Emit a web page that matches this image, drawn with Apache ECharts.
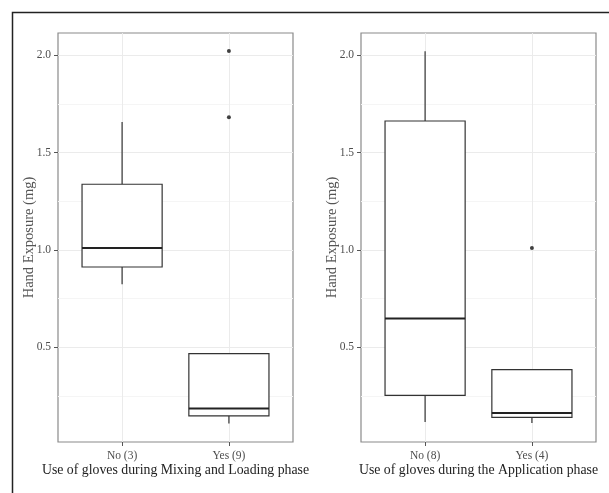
<!DOCTYPE html>
<html>
<head>
<meta charset="utf-8">
<script src="https://cdn.jsdelivr.net/npm/echarts@6/dist/echarts.min.js"></script>
<style>html,body{margin:0;padding:0;background:#fff}#c{width:609px;height:493px}</style>
</head>
<body>
<div id="c"></div>
<script>
// ---- data ----
const yMin = 0.014, yMax = 2.115;
const yTicks = [0.5, 1.0, 1.5, 2.0];
const yMinorTicks = [0.25, 0.75, 1.25, 1.75];

const mixCats = ['No (3)', 'Yes (9)'];
const mixLow  = [0.824, 0.109];
const mixQ1   = [0.913, 0.148];
const mixMed  = [1.011, 0.186];
const mixQ3   = [1.338, 0.468];
const mixHigh = [1.658, 0.468];
const mixOutGroup = [1, 1];
const mixOutVal   = [2.023, 1.682];

const appCats = ['No (8)', 'Yes (4)'];
const appLow  = [0.117, 0.112];
const appQ1   = [0.254, 0.140];
const appMed  = [0.648, 0.163];
const appQ3   = [1.663, 0.386];
const appHigh = [2.021, 0.386];
const appOutGroup = [1];
const appOutVal   = [1.011];

const xTitles = ['Use of gloves during Mixing and Loading phase', 'Use of gloves during the Application phase'];
const yTitle = 'Hand Exposure (mg)';

// ---- build ----
const FONT = 'Liberation Serif';
const chart = echarts.init(document.getElementById('c'), null, {renderer: 'canvas'});

function boxData(low, q1, med, q3, high) {
  return low.map((_, i) => [i + 1, low[i], q1[i], med[i], q3[i], high[i]]);
}
function renderBox(params, api) {
  const x = api.value(0);
  const hw = 0.375;
  const pLow = api.coord([x, api.value(1)]);
  const pQ1L = api.coord([x - hw, api.value(2)]);
  const pMedL = api.coord([x - hw, api.value(3)]);
  const pMedR = api.coord([x + hw, api.value(3)]);
  const pQ3R = api.coord([x + hw, api.value(4)]);
  const pQ1 = api.coord([x, api.value(2)]);
  const pQ3 = api.coord([x, api.value(4)]);
  const pHigh = api.coord([x, api.value(5)]);
  const st = {stroke: '#333', lineWidth: 1.2, fill: null};
  return {
    type: 'group',
    children: [
      {type: 'line', shape: {x1: pQ3[0], y1: pQ3[1], x2: pHigh[0], y2: pHigh[1]}, style: st},
      {type: 'line', shape: {x1: pLow[0], y1: pLow[1], x2: pQ1[0], y2: pQ1[1]}, style: st},
      {type: 'rect', shape: {x: pQ1L[0], y: pQ3R[1], width: pQ3R[0] - pQ1L[0], height: pQ1L[1] - pQ3R[1]}, style: {stroke: '#333', lineWidth: 1.2, fill: '#fff'}},
      {type: 'line', shape: {x1: pMedL[0], y1: pMedL[1], x2: pMedR[0], y2: pMedR[1]}, style: {stroke: '#222', lineWidth: 2}}
    ]
  };
}

const grids = [
  {left: 58, top: 33, width: 235, height: 409, show: true, borderColor: '#8a8a8a', borderWidth: 1.2, backgroundColor: 'transparent'},
  {left: 361, top: 33, width: 235, height: 409, show: true, borderColor: '#8a8a8a', borderWidth: 1.2, backgroundColor: 'transparent'}
];
const catsList = [mixCats, appCats];

const xAxes = [0, 1].map(g => ({
  type: 'value', gridIndex: g, min: 0.4, max: 2.6,
  axisLine: {show: false},
  axisTick: {show: true, length: 4, customValues: [1, 2], lineStyle: {color: '#555'}},
  axisLabel: {customValues: [1, 2], margin: 8, fontFamily: FONT, fontSize: 11.5, color: '#4d4d4d',
    formatter: v => catsList[g][Math.round(v) - 1] || ''},
  splitLine: {show: true, lineStyle: {color: '#ebebeb', width: 1}},
  name: xTitles[g], nameLocation: 'middle', nameGap: 21, nameMoveOverlap: false,
  nameTextStyle: {fontFamily: FONT, fontSize: 13.8, color: '#222'}
}));

const yAxes = [];
[0, 1].forEach(g => {
  yAxes.push({
    type: 'value', gridIndex: g, min: yMin, max: yMax,
    axisLine: {show: false},
    axisTick: {show: true, length: 4, customValues: yTicks, lineStyle: {color: '#555'}},
    axisLabel: {customValues: yTicks, margin: 7, fontFamily: FONT, fontSize: 11.5, color: '#4d4d4d',
      formatter: v => v.toFixed(1)},
    splitLine: {show: true, lineStyle: {color: '#ebebeb', width: 1}},
    name: yTitle, nameLocation: 'middle', nameGap: 21, nameRotate: 90, nameMoveOverlap: false,
    nameTextStyle: {fontFamily: FONT, fontSize: 14.5, color: '#555'}
  });
});
[0, 1].forEach(g => {
  yAxes.push({
    type: 'value', gridIndex: g, min: yMin, max: yMax, position: 'left',
    axisLine: {show: false},
    axisTick: {show: false, customValues: yMinorTicks},
    axisLabel: {show: false, customValues: yMinorTicks},
    splitLine: {show: true, lineStyle: {color: '#f5f5f5', width: 1}}
  });
});

const series = [
  {type: 'custom', xAxisIndex: 0, yAxisIndex: 0, renderItem: renderBox, data: boxData(mixLow, mixQ1, mixMed, mixQ3, mixHigh), z: 3, silent: true},
  {type: 'custom', xAxisIndex: 1, yAxisIndex: 1, renderItem: renderBox, data: boxData(appLow, appQ1, appMed, appQ3, appHigh), z: 3, silent: true},
  {type: 'scatter', xAxisIndex: 0, yAxisIndex: 0, symbolSize: 4, itemStyle: {color: '#111'}, z: 4,
    data: mixOutVal.map((v, i) => [mixOutGroup[i] + 1, v])},
  {type: 'scatter', xAxisIndex: 1, yAxisIndex: 1, symbolSize: 4, itemStyle: {color: '#111'}, z: 4,
    data: appOutVal.map((v, i) => [appOutGroup[i] + 1, v])}
];

chart.setOption({
  animation: false,
  backgroundColor: '#fff',
  grid: grids,
  xAxis: xAxes,
  yAxis: yAxes,
  series: series,
  graphic: [{type: 'rect', left: 10, top: 10, shape: {width: 640, height: 520}, style: {fill: null, stroke: '#222', lineWidth: 1.5}, silent: true, z: 10}]
});
</script>
</body>
</html>
